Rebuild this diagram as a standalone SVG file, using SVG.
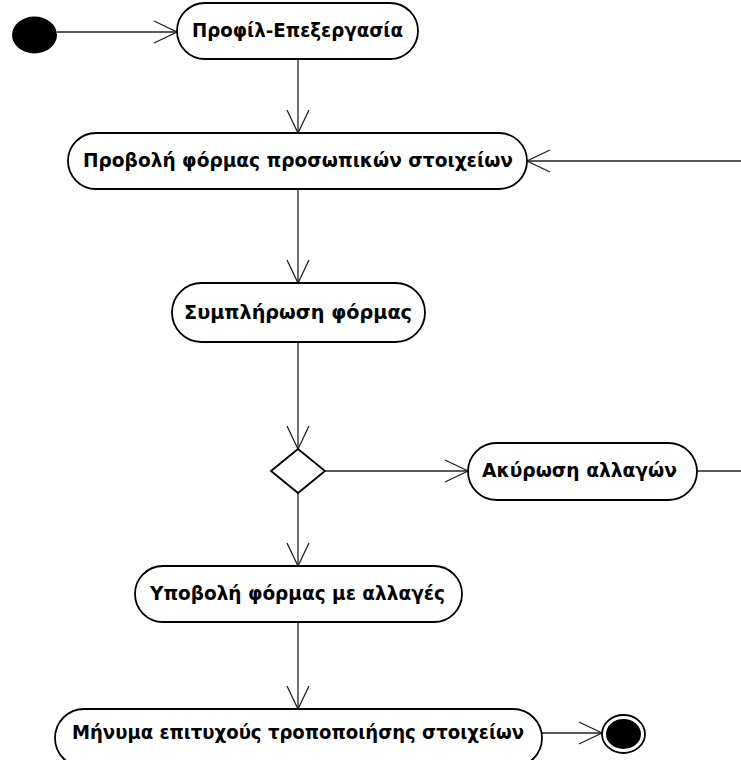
<svg xmlns="http://www.w3.org/2000/svg" width="741" height="760" viewBox="0 0 741 760">
<defs>
<style>
.node{fill:#fff;stroke:#000;stroke-width:1.8}
.lbl{font-family:"DejaVu Sans","Liberation Sans",sans-serif;font-weight:bold;font-size:18.5px;fill:#000;text-anchor:middle}
.edge{fill:none;stroke:#222;stroke-width:1.3}
</style>
<marker id="arr" markerUnits="userSpaceOnUse" viewBox="-25 -13 27 26" markerWidth="27" markerHeight="26" refX="0" refY="0" orient="auto">
<path d="M-23,-11 L0,0 L-23,11" fill="none" stroke="#222" stroke-width="1.3"/>
</marker>
</defs>
<rect width="741" height="760" fill="#fff"/>
<g id="edges">
<path class="edge" d="M57,32 H177" marker-end="url(#arr)"/>
<path class="edge" d="M298,59 V133" marker-end="url(#arr)"/>
<path class="edge" d="M741,161 H527" marker-end="url(#arr)"/>
<path class="edge" d="M298,189 V283" marker-end="url(#arr)"/>
<path class="edge" d="M298,342 V449" marker-end="url(#arr)"/>
<path class="edge" d="M325,471 H468" marker-end="url(#arr)"/>
<path class="edge" d="M697,471 H741"/>
<path class="edge" d="M298,493 V566" marker-end="url(#arr)"/>
<path class="edge" d="M298,622 V709" marker-end="url(#arr)"/>
<path class="edge" d="M542,733 H602" marker-end="url(#arr)"/>
</g>
<g id="start">
<ellipse cx="34.5" cy="35" rx="22.5" ry="18.5" fill="#000"/>
</g>
<g id="n1">
<rect class="node" x="177" y="3" width="241" height="56" rx="28"/>
<text class="lbl" x="297.5" y="37" textLength="211" lengthAdjust="spacingAndGlyphs">Προφίλ-Επεξεργασία</text>
</g>
<g id="n2">
<rect class="node" x="68" y="133" width="459" height="56" rx="28"/>
<text class="lbl" x="298" y="167" textLength="430" lengthAdjust="spacingAndGlyphs">Προβολή φόρμας προσωπικών στοιχείων</text>
</g>
<g id="n3">
<rect class="node" x="172" y="283" width="253" height="59" rx="29.5"/>
<text class="lbl" x="298" y="319" textLength="228" lengthAdjust="spacingAndGlyphs">Συμπλήρωση φόρμας</text>
</g>
<g id="decision">
<path class="node" d="M298,449 L325,471 L298,493 L271,471 Z"/>
</g>
<g id="n4">
<rect class="node" x="468" y="443" width="229" height="57" rx="28.5"/>
<text class="lbl" x="579.5" y="477" textLength="195" lengthAdjust="spacingAndGlyphs">Ακύρωση αλλαγών</text>
</g>
<g id="n5">
<rect class="node" x="135" y="566" width="327" height="56" rx="28"/>
<text class="lbl" x="297.5" y="600" textLength="295" lengthAdjust="spacingAndGlyphs">Υποβολή φόρμας με αλλαγές</text>
</g>
<g id="n6">
<rect class="node" x="55" y="709" width="487" height="58" rx="29"/>
<text class="lbl" x="298" y="739" textLength="452" lengthAdjust="spacingAndGlyphs">Μήνυμα επιτυχούς τροποποιήσης στοιχείων</text>
</g>
<g id="end">
<ellipse cx="623.5" cy="734" rx="21.5" ry="19" fill="#fff" stroke="#000" stroke-width="1.8"/>
<ellipse cx="623.5" cy="734" rx="17.5" ry="15" fill="#000"/>
</g>
</svg>
